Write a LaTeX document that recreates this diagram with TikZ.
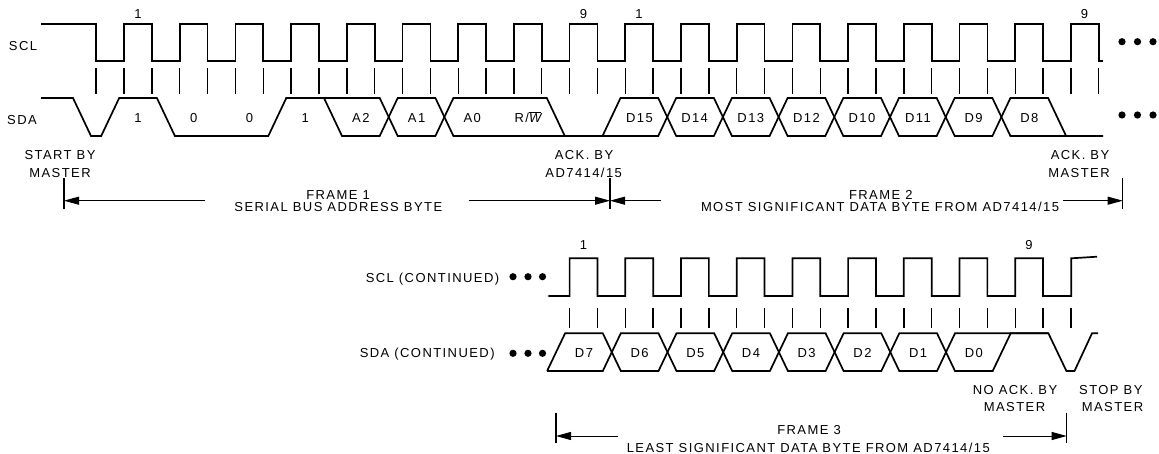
\documentclass[tikz,border=0pt]{standalone}
\usepackage{fontspec}
\setmainfont{Liberation Sans}[LetterSpace=11]
\usetikzlibrary{arrows.meta}
\begin{document}
\begin{tikzpicture}[x=1pt,y=-1pt,
  wave/.style={line width=1.7pt, line join=miter},
  tick/.style={line width=1.4pt},
  lbl/.style={inner sep=0pt, text height=9.3pt, text depth=0pt, font=\fontsize{13}{15}\selectfont},
  bar/.style={line width=1.3pt},
  arr/.style={line width=0.9pt, -{Triangle[length=15pt,width=8pt]}},
  dotc/.style={fill=black, draw=none}
]
\useasboundingbox (0,0) rectangle (1159,454);

% ---------- top SCL ----------
\draw[wave] (41,24) -- (96,24) -- (96,61)
  foreach \k in {0,...,17} { -- ({124+\k*55.7},61) -- ({124+\k*55.7},24) -- ({151.85+\k*55.7},24) -- ({151.85+\k*55.7},61) }
  -- (1103,61);
\foreach \k in {-1,...,35} \draw[tick] ({124+\k*27.85},68) -- ({124+\k*27.85},94);

% ---------- top SDA ----------
\def\U{98}\def\L{136}
\draw[wave] (41,\U)--(73,\U)--(91,\L)--(101.2,\L)--(119.2,\U)--(156.9,\U)--(174.9,\L)--(268.3,\L)--(286.3,\U)--(379.7,\U)--(397.7,\L)--(435.4,\L)--(453.4,\U)--(546.8,\U)--(564.8,\L)--(658.2,\L)--(676.2,\U)--(713.9,\U)--(731.9,\L)--(769.6,\L)--(787.6,\U)--(825.3,\U)--(843.3,\L)--(881,\L)--(899,\U)--(936.7,\U)--(954.7,\L)--(992.4,\L)--(1010.4,\U)--(1048.1,\U)--(1066.1,\L)--(1103,\L);
\draw[wave] (324,\U)--(342,\L)--(379.7,\L)--(397.7,\U)--(435.4,\U)--(453.4,\L)--(602.5,\L)--(620.5,\U)--(658.2,\U)--(676.2,\L)--(713.9,\L)--(731.9,\U)--(769.6,\U)--(787.6,\L)--(825.3,\L)--(843.3,\U)--(881,\U)--(899,\L)--(936.7,\L)--(954.7,\U)--(992.4,\U)--(1010.4,\L)--(1066.1,\L);

\foreach \t/\x [count=\i] in {1/138, 0/193.8, 0/249.5, 1/305.2, A2/360.9, A1/416.6, A0/472.2, D15/639.4, D14/694.6, D13/750.8, D12/806.5, D10/862, D11/918, D9/973.6, D8/1029.3}
  \node[lbl] (sda\i) at (\x,118) {\t};
\node[lbl] (rw) at (528,118) {R/$\overline{\mbox{\itshape W}}$};

% ---------- bottom SCL ----------
\draw[wave] (548.3,296)
  foreach \k in {0,...,8} { -- ({569.6+\k*55.7},296) -- ({569.6+\k*55.7},258.3) -- ({597.45+\k*55.7},258.3) -- ({597.45+\k*55.7},296) }
  -- (1071.3,296) -- (1071.3,258.3) -- (1097,256.7);
\foreach \k in {0,...,18} \draw[tick] ({569.6+\k*27.85},308.3) -- ({569.6+\k*27.85},328.3);

% ---------- bottom SDA ----------
\def\Ub{333.3}\def\Lb{371}
\draw[wave] (547.1,\Lb)--(565.1,\Ub)--(602.8,\Ub)--(620.8,\Lb)--(658.5,\Lb)--(676.5,\Ub)--(714.2,\Ub)--(732.2,\Lb)--(769.9,\Lb)--(787.9,\Ub)--(825.6,\Ub)--(843.6,\Lb)--(881.3,\Lb)--(899.3,\Ub)--(937,\Ub)--(955,\Lb)--(992.7,\Lb)--(1010.7,\Ub)--(1048.4,\Ub)--(1066.4,\Lb)--(1074.5,\Lb)--(1092,\Ub)--(1098,\Ub);
\draw[wave] (547.1,\Lb)--(602.8,\Lb)--(620.8,\Ub)--(658.5,\Ub)--(676.5,\Lb)--(714.2,\Lb)--(732.2,\Ub)--(769.9,\Ub)--(787.9,\Lb)--(825.6,\Lb)--(843.6,\Ub)--(881.3,\Ub)--(899.3,\Lb)--(937,\Lb)--(955,\Ub)--(1048.4,\Ub);

\foreach \t/\x [count=\i] in {D7/584, D6/639.7, D5/695.4, D4/751, D3/806.7, D2/862.5, D1/918.2, D0/973.9}
  \node[lbl] (sdb\i) at (\x,353) {\t};

% ---------- pulse numbers ----------
\node[lbl] (n1) at (138,14) {1};
\node[lbl] (n2) at (583.5,14) {9};
\node[lbl] (n3) at (639,14) {1};
\node[lbl] (n4) at (1084.5,14) {9};
\node[lbl] (n5) at (583.5,245) {1};
\node[lbl] (n6) at (1029,245) {9};

% ---------- signal names ----------
\node[lbl] (scl) at (23,46) {SCL};
\node[lbl] (sda) at (22,119.5) {SDA};
\node[lbl] (sclc) at (432.5,278.3) {SCL (CONTINUED)};
\node[lbl] (sdac) at (427.2,353.3) {SDA (CONTINUED)};

% ---------- dots ----------
\foreach \x in {1122,1137.5,1153} {
  \fill[dotc] (\x,41.7) circle (3.6);
  \fill[dotc] (\x,115) circle (3.6);
}
\foreach \x in {513,528,542.5} {
  \fill[dotc] (\x,276.7) circle (3.6);
  \fill[dotc] (\x,353.3) circle (3.6);
}

% ---------- annotations ----------
\node[lbl] (st1) at (60,154.7) {START BY};
\node[lbl] (st2) at (60,172.8) {MASTER};
\node[lbl] (ak1) at (584,154.7) {ACK. BY};
\node[lbl] (ak2) at (583.7,172.7) {AD7414/15};
\node[lbl] (am1) at (1080,154.7) {ACK. BY};
\node[lbl] (am2) at (1079,172.8) {MASTER};
\node[lbl] (na1) at (1015,390) {NO ACK. BY};
\node[lbl] (na2) at (1014.5,407.3) {MASTER};
\node[lbl] (sp1) at (1110.8,390) {STOP BY};
\node[lbl] (sp2) at (1112.5,407.3) {MASTER};

\node[lbl] (f1a) at (338,194.6) {FRAME 1};
\node[lbl] (f1b) at (338.3,206.5) {SERIAL BUS ADDRESS BYTE};
\node[lbl] (f2a) at (880.8,194.6) {FRAME 2};
\node[lbl] (f2b) at (880,206.5) {MOST SIGNIFICANT DATA BYTE FROM AD7414/15};
\node[lbl] (f3a) at (809,430) {FRAME 3};
\node[lbl] (f3b) at (808.3,448.3) {LEAST SIGNIFICANT DATA BYTE FROM AD7414/15};

% ---------- frame markers ----------
\coordinate (b1t) at (64,178);   \coordinate (b1b) at (64,209);
\coordinate (b2t) at (610,178);  \coordinate (b2b) at (610,209);
\coordinate (b3t) at (1122.7,178); \coordinate (b3b) at (1122.7,209);
\coordinate (b4t) at (556,412.7); \coordinate (b4b) at (556,443.3);
\coordinate (b5t) at (1066.7,412.7); \coordinate (b5b) at (1066.7,443.3);
\foreach \b in {1,...,5} \draw[bar] (b\b t) -- (b\b b);

\coordinate (a1s) at (205,200.7);  \coordinate (a1e) at (64,200.7);
\coordinate (a2s) at (469.3,200.7); \coordinate (a2e) at (610,200.7);
\coordinate (a3s) at (661,200.7);  \coordinate (a3e) at (610,200.7);
\coordinate (a4s) at (1063.3,200.7); \coordinate (a4e) at (1122.7,200.7);
\coordinate (a5s) at (618.3,436);  \coordinate (a5e) at (556,436);
\coordinate (a6s) at (1003.3,436); \coordinate (a6e) at (1066.7,436);
\foreach \a in {1,...,6} \draw[arr] (a\a s) -- (a\a e);
\end{tikzpicture}
\end{document}
